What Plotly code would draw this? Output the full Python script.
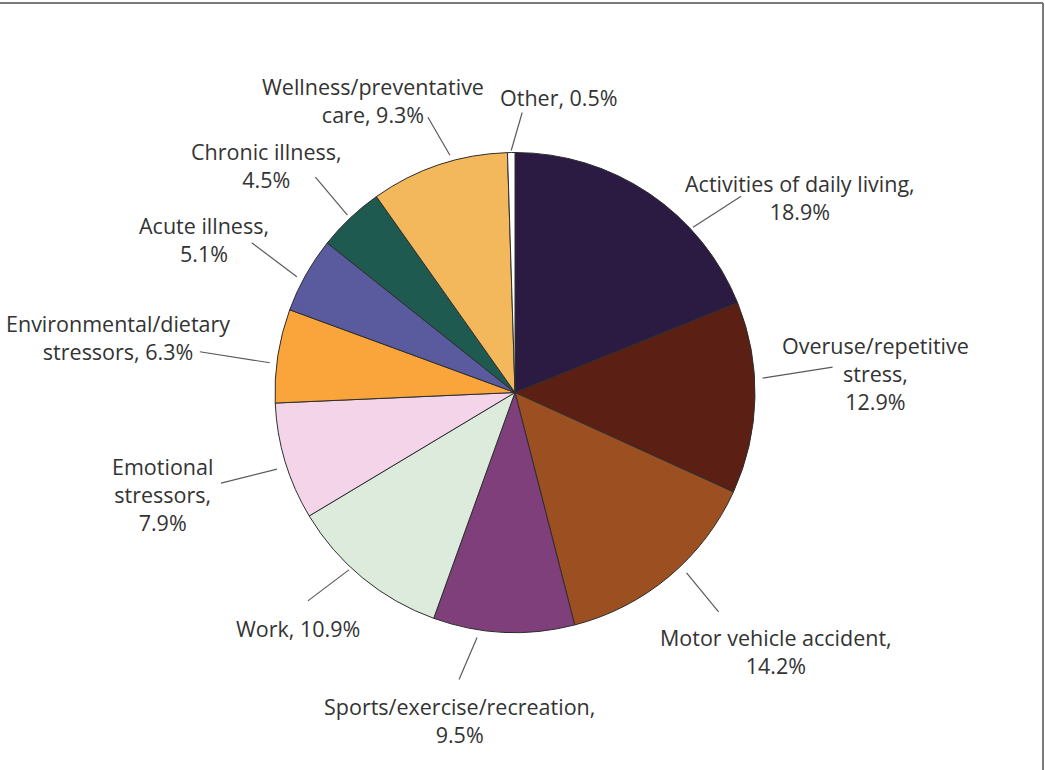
import math
import plotly.graph_objects as go

# ---- data ----
categories = [
    "Activities of daily living", "Overuse/repetitive stress", "Motor vehicle accident",
    "Sports/exercise/recreation", "Work", "Emotional stressors",
    "Environmental/dietary stressors", "Acute illness", "Chronic illness",
    "Wellness/preventative care", "Other",
]
values = [18.9, 12.9, 14.2, 9.5, 10.9, 7.9, 6.3, 5.1, 4.5, 9.3, 0.5]
label_texts = [
    "Activities of daily living,<br>18.9%",
    "Overuse/repetitive<br>stress,<br>12.9%",
    "Motor vehicle accident,<br>14.2%",
    "Sports/exercise/recreation,<br>9.5%",
    "Work, 10.9%",
    "Emotional<br>stressors,<br>7.9%",
    "Environmental/dietary<br>stressors, 6.3%",
    "Acute illness,<br>5.1%",
    "Chronic illness,<br>4.5%",
    "Wellness/preventative<br>care, 9.3%",
    "Other, 0.5%",
]
colors = ["#2b1a42", "#5c1f14", "#9c5021", "#7f3f7b", "#dcebdc", "#f3d4e8",
          "#f9a53c", "#5a5b9f", "#1f5a51", "#f3b75c", "#ffffff"]

# ---- layout / style ----
W, H = 1045, 770
CX, CY, R = 515, 392.5, 240
# leader: angle nudge from the slice middle (deg), start radius (px), outer end offset (px)
leader_nudge = [13.1, -4.6, -3.6, 6.1, 3.7, -1.1, -1.9, -1.4, 0.0, 3.2, 0.0]
leader_r = [243, 248, 249, 248, 243, 250, 247, 247, 244, 246, 242]
leader_end = [(48, -31), (70, -11), (32, 39), (-18, 42), (-41, 31), (-56, 14),
              (-70, -11), (-45, -34), (-32, -38), (-22, -38), (11, -38)]
label_pos = [(800, 198), (875, 373), (776, 651), (459, 720), (298, 628),
             (162, 494), (118, 337), (204, 239), (266, 166), (373, 101), (559, 98)]

fig = go.Figure(go.Pie(
    labels=categories, values=values, sort=False, direction="clockwise",
    rotation=0, textinfo="none", hoverinfo="label+percent",
    marker=dict(colors=colors, line=dict(color="#2e2e2e", width=1)),
    domain=dict(x=[(CX - R) / W, (CX + R) / W], y=[1 - (CY + R) / H, 1 - (CY - R) / H]),
    showlegend=False,
))

def px2paper(x, y):
    return x / W, 1 - y / H

shapes = []
annotations = []
total = sum(values)
cum = 0.0
for i, v in enumerate(values):
    mid = (cum + v / 2) / total * 360 + leader_nudge[i]
    cum += v
    a = math.radians(mid)
    tx, ty = CX + leader_r[i] * math.sin(a), CY - leader_r[i] * math.cos(a)
    ex, ey = tx + leader_end[i][0], ty + leader_end[i][1]
    x0, y0 = px2paper(tx, ty)
    x1, y1 = px2paper(ex, ey)
    shapes.append(dict(type="line", xref="paper", yref="paper", x0=x0, y0=y0, x1=x1, y1=y1,
                       line=dict(color="#5a5a5a", width=1.2)))
    lx, ly = px2paper(*label_pos[i])
    annotations.append(dict(text=label_texts[i], xref="paper", yref="paper", x=lx, y=ly,
                            showarrow=False, align="center", xanchor="center", yanchor="middle",
                            font=dict(family="Open Sans", size=21.5, color="#333333")))

# frame
shapes.append(dict(type="line", xref="paper", yref="paper", x0=0, y0=1 - 3 / H, x1=1043 / W, y1=1 - 3 / H,
                   line=dict(color="#7a7a7a", width=2)))
shapes.append(dict(type="line", xref="paper", yref="paper", x0=1043 / W, y0=1 - 3 / H, x1=1043 / W, y1=0,
                   line=dict(color="#7a7a7a", width=2)))

fig.update_layout(
    width=W, height=H, margin=dict(l=0, r=0, t=0, b=0),
    paper_bgcolor="white", plot_bgcolor="white",
    shapes=shapes, annotations=annotations,
)
fig.write_html("out.html", config={"displayModeBar": False},
               post_script="document.body.style.margin='0';")
